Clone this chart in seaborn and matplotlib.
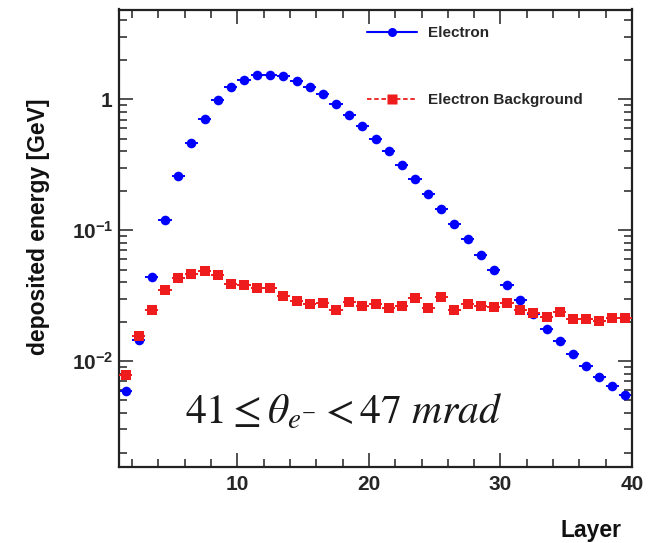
import matplotlib
matplotlib.use("Agg")
import matplotlib.pyplot as plt
import numpy as np
import pandas as pd
import seaborn as sns
from matplotlib.lines import Line2D
from matplotlib.ticker import FixedLocator, LogLocator, MultipleLocator, NullFormatter

# layer bin centres, layers 1..39
layer = np.arange(1, 40) + 0.5

electron = [
    0.0059, 0.0144, 0.044, 0.119, 0.258, 0.461, 0.711, 0.98, 1.23, 1.41,
    1.52, 1.54, 1.50, 1.38, 1.24, 1.09, 0.927, 0.764, 0.625, 0.501,
    0.403, 0.313, 0.245, 0.188, 0.145, 0.111, 0.0849, 0.0651, 0.050, 0.038,
    0.0292, 0.0229, 0.0177, 0.0141, 0.0113, 0.00916, 0.00759, 0.00644, 0.00549,
]
background = [
    0.0078, 0.0155, 0.0245, 0.0348, 0.0432, 0.0459, 0.0487, 0.0453, 0.0389, 0.0378,
    0.0359, 0.0363, 0.0313, 0.0287, 0.0275, 0.0279, 0.0245, 0.0282, 0.0263, 0.0274,
    0.0255, 0.0263, 0.0304, 0.0255, 0.0308, 0.0244, 0.0271, 0.0263, 0.0260, 0.0279,
    0.0245, 0.0234, 0.0218, 0.0238, 0.0209, 0.0208, 0.0203, 0.0212, 0.0212,
]

series_names = ["Electron", "Electron Background"]
x_ticks = [10, 20, 30, 40]
y_ticks = [0.01, 0.1, 1]
y_tick_labels = [r"$\mathbf{10^{-2}}$", r"$\mathbf{10^{-1}}$", r"$\mathbf{1}$"]

BLUE = "#0000ff"
RED = "#ee1c1c"

sns.set_theme(style="ticks")
plt.rcParams["font.family"] = ["Liberation Sans", "DejaVu Sans"]
plt.rcParams["mathtext.fontset"] = "custom"
plt.rcParams["mathtext.rm"] = "Liberation Sans"
plt.rcParams["mathtext.bf"] = "Liberation Sans:bold"
plt.rcParams["mathtext.it"] = "Liberation Sans:italic"

df = pd.DataFrame({"layer": layer, "electron": electron, "background": background})

fig = plt.figure(figsize=(6.48, 5.43), dpi=100)
fig.patch.set_facecolor("white")
ax = fig.add_axes([119 / 648, 1 - 467 / 543, 513 / 648, 457.5 / 543])

# horizontal bin-width bars, then markers
ax.errorbar(df["layer"], df["electron"], xerr=0.5, fmt="none", ecolor=BLUE, elinewidth=1.4, capsize=0, zorder=2)
ax.errorbar(df["layer"], df["background"], xerr=0.5, fmt="none", ecolor=RED, elinewidth=1.4, capsize=0, zorder=4)
sns.scatterplot(data=df, x="layer", y="electron", marker="o", color=BLUE, s=48, linewidth=0, ax=ax, zorder=3, legend=False)
sns.scatterplot(data=df, x="layer", y="background", marker="s", color=RED, s=56, linewidth=0, ax=ax, zorder=5, legend=False)

ax.set_yscale("log")
ax.set_xlim(1, 40)
ax.set_ylim(1.55e-3, 4.85)

ax.xaxis.set_major_locator(FixedLocator(x_ticks))
ax.xaxis.set_minor_locator(MultipleLocator(2))
ax.set_yticks(y_ticks)
ax.set_yticklabels(y_tick_labels)
ax.yaxis.set_minor_locator(LogLocator(base=10, subs=np.arange(2, 10), numticks=20))
ax.yaxis.set_minor_formatter(NullFormatter())

ax.tick_params(which="both", direction="in", top=True, right=True, width=1.1, color="#222222")
ax.tick_params(which="major", length=10)
ax.tick_params(which="minor", length=5.5)
ax.tick_params(axis="x", labelsize=15, pad=6)
ax.tick_params(axis="y", labelsize=15, pad=4)
for lbl in ax.get_xticklabels():
    lbl.set_fontweight("bold")
for spine in ax.spines.values():
    spine.set_linewidth(1.6)
    spine.set_color("#222222")

ax.set_ylabel("deposited energy [GeV]", fontsize=16.5, fontweight="bold", color="#111111")
ax.yaxis.set_label_coords(-0.135, 0.525)
ax.set_xlabel("Layer", fontsize=16.5, fontweight="bold", ha="right", color="#111111")
ax.xaxis.set_label_coords(0.979, -0.114)

handles = [
    Line2D([], [], color=BLUE, lw=1.5, marker="o", ms=6.5, mec="none"),
    Line2D([], [], color=RED, lw=1.3, ls=(0, (2.5, 1.5)), marker="s", ms=7, mec="none"),
]
ax.legend(
    handles, series_names, loc="upper left", bbox_to_anchor=(0.4834, 0.963),
    frameon=False, prop={"weight": "bold", "size": 11}, handlelength=3.3,
    handletextpad=0.7, labelspacing=3.45, borderpad=0, borderaxespad=0,
)

ax.text(
    0.1287, 0.0963, r"$41 \leq \theta_{e^{-}} < 47\ mrad$", transform=ax.transAxes,
    fontsize=30, math_fontfamily="stix", va="baseline", ha="left", color="#1a1a1a",
)

fig.savefig("out.png", dpi=100)
